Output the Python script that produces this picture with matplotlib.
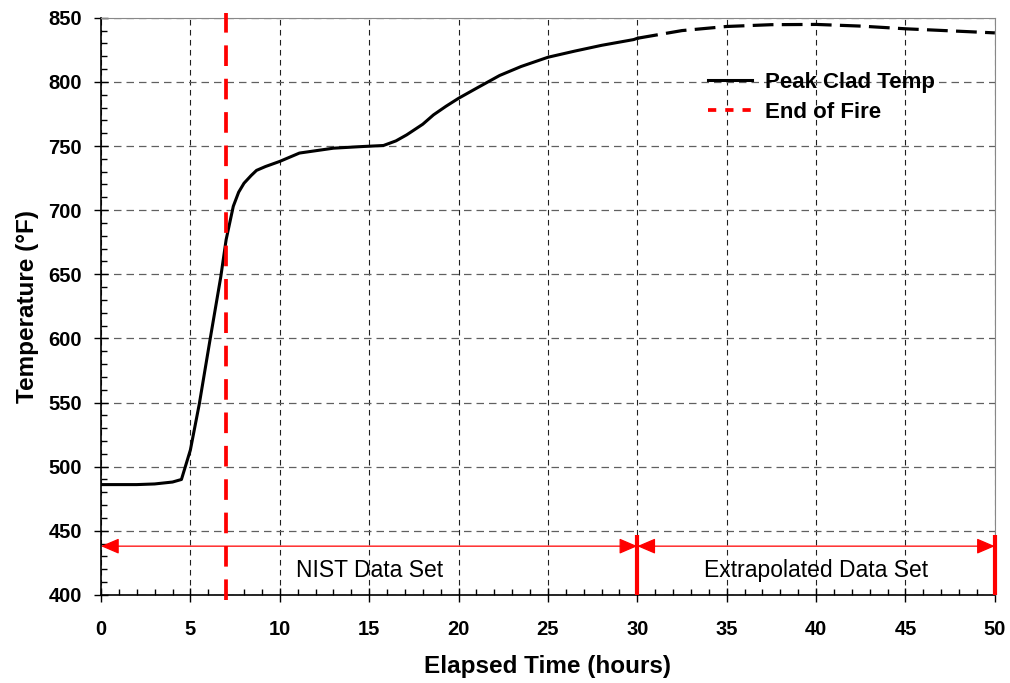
import matplotlib
matplotlib.use("Agg")
import matplotlib.pyplot as plt
from matplotlib.lines import Line2D
from matplotlib.ticker import MultipleLocator

plt.rcParams['font.family'] = ['Liberation Sans', 'DejaVu Sans']

# NIST measured data (hours, °F)
nist_t = [0, 2, 3.0, 4.0, 4.5, 5.0, 5.5, 6.1, 6.7, 7.0, 7.4, 7.7, 8.0, 8.4, 8.7, 9.2, 10.0, 11.1, 13.0, 14.5,
          15.8, 16.5, 17.1, 18.0, 18.6, 19.3, 20.0, 21.0, 22.3, 23.5, 25.0, 26.5, 28.0, 29.8, 30.0]
nist_T = [486, 486, 486.5, 488, 490, 513, 549, 599, 648, 677, 703, 714, 721, 727, 731, 734, 738, 744.5, 748.3, 749.5,
          750.4, 754, 758.7, 767, 774.3, 781, 787.2, 795, 805, 812, 819.2, 824, 828.5, 833, 834]
# extrapolated data
ext_t = [30, 32.5, 35, 37.5, 40, 42.5, 45, 47.5, 50]
ext_T = [834, 840, 843.2, 844.6, 844.8, 843.5, 841.4, 839.8, 838.2]

end_of_fire = 7
fire_span = [396, 854]
arrow_y = 438
nist_range = [0, 30]
ext_range = [30, 50]
bar_top = 447
label_y = 419

fig = plt.figure(figsize=(10.10, 6.83), dpi=100)
ax = fig.add_axes([0.100, 0.129, 0.885, 0.845])

ax.plot(nist_t, nist_T, color='black', lw=2.2, zorder=4, solid_joinstyle='round')
ax.plot(ext_t, ext_T, color='black', lw=2.3, dashes=(6.5, 2.6), zorder=4)
ax.plot([end_of_fire, end_of_fire], fire_span, color='red', lw=2.7, dashes=(5.5, 3.4),
        clip_on=False, zorder=5, dash_capstyle='butt')

# range arrows
for rng in (nist_range, ext_range):
    ax.annotate('', xy=(rng[0], arrow_y), xytext=(rng[1], arrow_y),
                arrowprops=dict(arrowstyle='<|-|>,head_length=0.7,head_width=0.3', color='red', lw=0.9,
                                mutation_scale=16, shrinkA=0, shrinkB=0), zorder=5)
for xb in (ext_range[0], ext_range[1]):
    ax.plot([xb, xb], [400, bar_top], color='red', lw=3.0, solid_capstyle='butt', zorder=6, clip_on=False)

ax.text(sum(nist_range) / 2, label_y, 'NIST Data Set', ha='center', va='center', fontsize=16.5)
ax.text(sum(ext_range) / 2, label_y, 'Extrapolated Data Set', ha='center', va='center', fontsize=16.5)

ax.set_xlim(0, 50)
ax.set_ylim(400, 850)
ax.xaxis.set_major_locator(MultipleLocator(5))
ax.xaxis.set_minor_locator(MultipleLocator(1))
ax.yaxis.set_major_locator(MultipleLocator(50))
ax.yaxis.set_minor_locator(MultipleLocator(10))
ax.tick_params(which='major', direction='inout', length=9.5, width=1, labelsize=14.5)
ax.tick_params(axis='y', which='major', pad=9)
ax.tick_params(axis='x', which='major', pad=13)
ax.tick_params(which='minor', direction='in', length=4, width=1)
for lab in ax.get_xticklabels() + ax.get_yticklabels():
    lab.set_fontweight('bold')

ax.yaxis.grid(True, which='major', color='#606060', lw=0.9, dashes=(6, 4))
ax.xaxis.grid(True, which='major', color='#202020', lw=0.8, dashes=(5, 4))
for s in ('top', 'right'):
    ax.spines[s].set_color('#888888')
for s in ('left', 'bottom'):
    ax.spines[s].set_linewidth(1.2)

ax.set_xlabel('Elapsed Time (hours)', fontsize=17.5, fontweight='bold', labelpad=12)
ax.set_ylabel('Temperature (°F)', fontsize=17.5, fontweight='bold', labelpad=7)

handles = [Line2D([], [], color='black', lw=2.2),
           Line2D([], [], color='red', lw=2.7, dashes=(2.2, 2.4))]
ax.legend(handles, ['Peak Clad Temp', 'End of Fire'], loc='upper left',
          bbox_to_anchor=(0.679, 0.906), frameon=False, borderpad=0, borderaxespad=0,
          prop={'weight': 'bold', 'size': 16}, handlelength=2.0, handletextpad=0.55,
          labelspacing=0.4)

fig.savefig('out.png', dpi=100)
